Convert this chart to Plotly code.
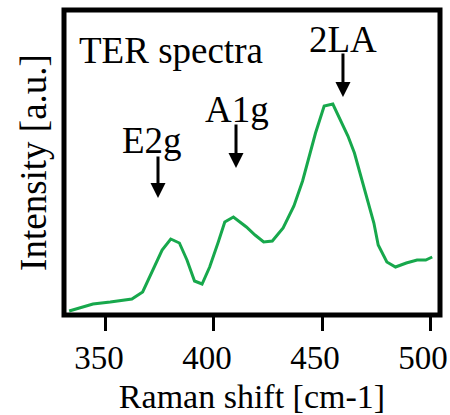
import plotly.graph_objects as go

# Raman shift (cm-1) and TER intensity (a.u.)
raman_shift = [333, 344, 352, 362, 367, 369, 371, 376, 380, 384, 387.5, 391, 394.5,
               398, 402, 405, 409, 412, 415, 419, 423, 427, 432, 437, 441, 447, 451,
               455, 458, 462, 465, 468.5, 471, 474, 476, 480, 484, 489, 494, 498, 501]
intensity = [4, 11, 13, 16, 23, 32, 42, 65, 76, 72, 55, 34, 31,
             48, 73, 93, 98, 93, 88, 80, 73, 74, 87, 109, 134, 182, 209,
             211, 198, 179, 162, 135, 115, 92, 70, 53, 48, 52, 55, 55, 58]

x_ticks = [350, 400, 450, 500]

peak_labels = ["E2g", "A1g", "2LA"]
peak_text_x = [371.3, 410.6, 459.7]
peak_text_y = [175, 206, 276]
peak_tip_x = [374.1, 410.2, 459.7]
peak_tip_y = [117, 147, 218]
arrow_len = [-43, -45, -45]

FONT = ("Liberation Serif, Tinos, Times, Nimbus Roman, Nimbus Roman No9 L, "
        "FreeSerif, Noto Serif, DejaVu Serif, serif")
FS = 37
GREEN = "#17a84c"

fig = go.Figure()
fig.add_trace(go.Scatter(x=raman_shift, y=intensity, mode="lines",
                         line=dict(color=GREEN, width=3), showlegend=False))

annotations = []
for lab, tx, ty in zip(peak_labels, peak_text_x, peak_text_y):
    annotations.append(dict(x=tx, y=ty, xref="x", yref="y", text=lab, showarrow=False,
                            xanchor="center", yanchor="middle",
                            font=dict(family=FONT, size=FS, color="black")))
for px, py, al in zip(peak_tip_x, peak_tip_y, arrow_len):
    annotations.append(dict(x=px, y=py, xref="x", yref="y", text="", showarrow=True,
                            ax=0, ay=al, arrowhead=2, arrowsize=1, arrowwidth=3,
                            arrowcolor="black", standoff=0))
annotations.append(dict(x=336.6, y=265, xref="x", yref="y", text="TER spectra",
                        showarrow=False, xanchor="left", yanchor="middle",
                        font=dict(family=FONT, size=FS, color="black")))

fig.update_layout(
    width=450, height=415,
    margin=dict(l=64, r=10, t=10, b=100, autoexpand=False),
    paper_bgcolor="white", plot_bgcolor="white",
    font=dict(family=FONT, size=FS, color="black"),
    annotations=annotations,
    shapes=[dict(type="rect", xref="paper", yref="paper", x0=0, y0=0, x1=1, y1=1,
                 line=dict(color="black", width=5), layer="above")],
    xaxis=dict(range=[330.6, 504.6], tickvals=x_ticks, ticks="outside", ticklen=15,
               tickwidth=3, tickcolor="black", showgrid=False, zeroline=False,
               showline=False, tickfont=dict(family=FONT, size=33),
               automargin=False, ticklabelshift=-7, ticklabeloverflow="allow",
               ticklabelstandoff=-2,
               title=dict(text="Raman shift [cm-1]", font=dict(family=FONT, size=34),
                          standoff=9)),
    yaxis=dict(range=[0, 305], showticklabels=False, ticks="", showgrid=False,
               zeroline=False, showline=False, automargin=False,
               title=dict(text="Intensity [a.u.]", font=dict(family=FONT, size=FS),
                          standoff=5)),
)

fig.write_html("out.html")
